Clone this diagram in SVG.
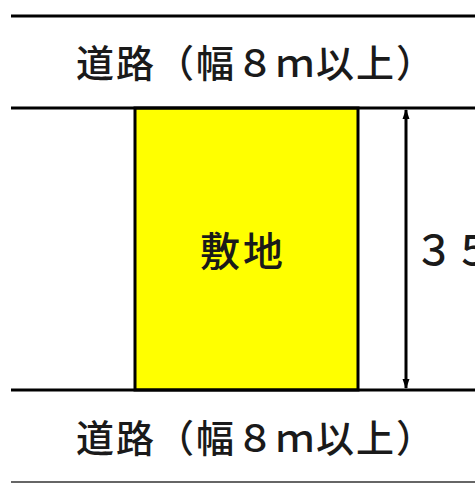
<svg xmlns="http://www.w3.org/2000/svg" width="475" height="483" viewBox="0 0 475 483">
<style>
.t{font-family:"Noto Sans CJK JP","Noto Sans CJK SC",sans-serif;fill:#1a1a1a;font-weight:500}
.ln{stroke:#000;stroke-width:3;fill:none}
</style>
<defs>
<marker id="ah" viewBox="0 0 10 10" refX="9" refY="5" markerWidth="10" markerHeight="10" markerUnits="userSpaceOnUse" orient="auto-start-reverse">
<path d="M0,1.5 L10,5 L0,8.5 Z" fill="#000"/>
</marker>
</defs>
<rect width="475" height="483" fill="#fff"/>
<g id="road-top">
<line class="ln" x1="11" y1="16" x2="475" y2="16"/>
<text class="t" x="256" y="77" font-size="38" letter-spacing="2" text-anchor="middle">道路（幅８ｍ以上）</text>
</g>
<g id="site">
<rect x="135" y="108" width="223" height="282" fill="#ffff00" stroke="#000" stroke-width="3"/>
<text class="t" x="243" y="266" font-size="40" letter-spacing="3" text-anchor="middle">敷地</text>
</g>
<g id="road-lines">
<line class="ln" x1="11" y1="108" x2="475" y2="108"/>
<line class="ln" x1="11" y1="390" x2="475" y2="390"/>
</g>
<g id="road-bottom">
<text class="t" x="256" y="452" font-size="38" letter-spacing="2" text-anchor="middle">道路（幅８ｍ以上）</text>
<line x1="11" y1="482" x2="475" y2="482" stroke="#333" stroke-width="1.5"/>
</g>
<g id="connectors">
<line x1="406" y1="110" x2="406" y2="388" stroke="#000" stroke-width="3" marker-start="url(#ah)" marker-end="url(#ah)"/>
</g>
<g id="dimension">
<text class="t" x="414" y="265" font-size="40">３５</text>
</g>
</svg>
